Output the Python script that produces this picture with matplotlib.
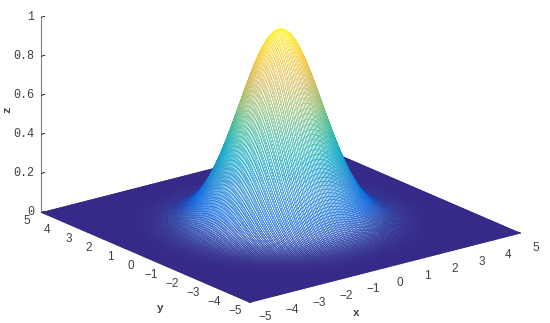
import numpy as np
import matplotlib
matplotlib.use("Agg")
import matplotlib.pyplot as plt
from matplotlib.colors import LinearSegmentedColormap

# surface cross-section, z at |x| = 0.00, 0.05, ... 5.00
half_profile = [
    1.0000, .9992, .9967, .9925, .9868, .9794, .9704, .9600, .9481, .9347,
    .9200, .9041, .8869, .8686, .8493, .8290, .8079, .7860, .7634, .7402,
    .7165, .6925, .6681, .6435, .6188, .5940, .5693, .5447, .5203, .4962,
    .4724, .4490, .4260, .4035, .3816, .3603, .3396, .3196, .3002, .2815,
    .2636, .2464, .2299, .2142, .1992, .1850, .1715, .1587, .1466, .1352,
    .1245, .1145, .1050, .0962, .0880, .0804, .0733, .0667, .0606, .0550,
    .0498, .0450, .0406, .0366, .0329, .0296, .0265, .0237, .0212, .0189,
    .0169, .0150, .0133, .0118, .0104, .0092, .0081, .0071, .0063, .0055,
    .0048, .0042, .0037, .0032, .0028, .0024, .0021, .0018, .0016, .0014,
    .0012, .0010, .0009, .0007, .0006, .0005, .0005, .0004, .0003, .0003,
    .0002,
]
peak_height = 0.99
x_ticks = [-5, -4, -3, -2, -1, 0, 1, 2, 3, 4, 5]
y_ticks = [-5, -4, -3, -2, -1, 0, 1, 2, 3, 4, 5]
z_ticks = [0, 0.2, 0.4, 0.6, 0.8, 1]
z_tick_labels = ["0", "0.2", "0.4", "0.6", "0.8", "1"]
parula_colors = ["#352A87", "#0363E1", "#1485D4", "#06A7C6", "#38B99E",
                 "#92BF73", "#D9BA56", "#FCCE2E", "#F9FB0E"]

TXT = "#404040"
cmap = LinearSegmentedColormap.from_list("parula", parula_colors)

profile = np.array(half_profile[:0:-1] + half_profile)
grid = np.linspace(-5, 5, profile.size)
X, Y = np.meshgrid(grid, grid)
Z = peak_height * np.outer(profile, profile)

S = 510
fig = plt.figure(figsize=(5.5, 3.23), dpi=100)
ax = fig.add_axes([19 / 550, -64 / 323, S / 550, S / 323], projection="3d")
ax.set_proj_type("ortho")
ax.view_init(elev=19.4, azim=-127.6)
ax.set_box_aspect((341, 341, 206.8), zoom=1.0)
ax.patch.set_alpha(0)

surf = ax.plot_surface(X, Y, Z, rstride=1, cstride=1, color="white",
                       shade=False, linewidth=0.36, antialiased=True)
face_z = Z[:-1, :-1].ravel()
edge_rgba = cmap(face_z)
white_mix = np.clip((face_z - 0.001) / 0.07, 0, 1)[:, None] ** 0.7
face_rgba = edge_rgba * (1 - white_mix) + white_mix
surf.set_facecolors(face_rgba)
surf.set_edgecolors(edge_rgba)

ax.set_xlim(-5, 5, view_margin=0)
ax.set_ylim(-5, 5, view_margin=0)
ax.set_zlim(0, 1, view_margin=0)
ax.set_xticks(x_ticks)
ax.set_yticks(y_ticks)
ax.set_zticks(z_ticks)
ax.set_zticklabels(z_tick_labels)
ax.grid(False)

for axis in (ax.xaxis, ax.yaxis, ax.zaxis):
    axis.set_pane_color((1, 1, 1, 0))
    axis.pane.set_edgecolor((1, 1, 1, 0))
    axis.line.set_color("#808080")
    axis.line.set_linewidth(0.8)
    axis._axinfo["tick"]["inward_factor"] = 0.0
    axis._axinfo["tick"]["outward_factor"] = 0.15
    axis._axinfo["tick"]["linewidth"] = {True: 0.6, False: 0.6}
    axis._axinfo["tick"]["color"] = "#606060"

ax.tick_params(axis="x", labelsize=8.5, labelcolor=TXT, pad=6)
ax.tick_params(axis="y", labelsize=8.5, labelcolor=TXT, pad=2.5)
ax.tick_params(axis="z", labelsize=8.5, labelcolor=TXT, pad=-5)
for lab in ax.get_zticklabels():
    lab.set_family("Liberation Mono")
    lab.set_ha("right")
    lab.set_va("center")
for lab in ax.get_xticklabels() + ax.get_yticklabels():
    lab.set_family("Liberation Sans")
    lab.set_ha("center")
    lab.set_va("bottom")

lab_kw = dict(fontsize=8, fontweight="bold", color=TXT, family="Liberation Mono",
              ha="center", va="center")
fig.text(356 / 550, 1 - 313 / 323, "x", **lab_kw)
fig.text(160 / 550, 1 - 308 / 323, "y", **lab_kw)
fig.text(7 / 550, 1 - 110 / 323, "z", rotation=90, **lab_kw)

fig.savefig("out.png", dpi=100)
